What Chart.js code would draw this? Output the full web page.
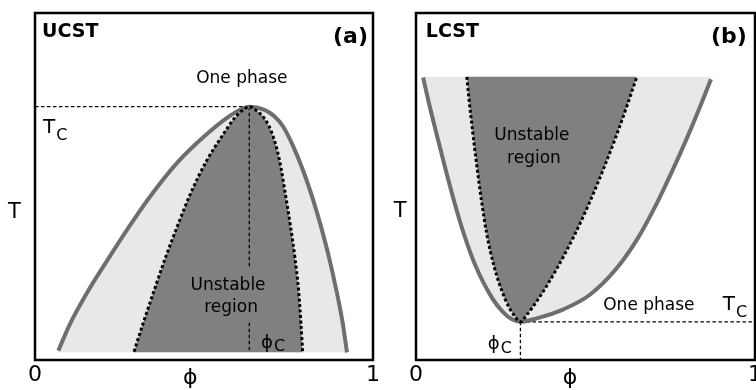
<!DOCTYPE html>
<html>
<head>
<meta charset="utf-8">
<script src="https://cdn.jsdelivr.net/npm/chart.js@4.4.1/dist/chart.umd.min.js"></script>
<style>
  html, body { margin: 0; padding: 0; background: #fff; overflow: hidden; }
  body { width: 756px; height: 390px; position: relative; }
  canvas { position: absolute; top: 0; }
  #ucst { left: 0; }
  #lcst { left: 378px; }
</style>
</head>
<body>
<canvas id="ucst" width="378" height="390"></canvas>
<canvas id="lcst" width="390" height="390"></canvas>
<script>
// phi axis ticks
const phiTickLabels = ['0', '1'];

// (a) UCST - binodal (solid) and spinodal (dotted), phi vs T (0..1)
const ucstBinodalPhi = [0.069, 0.103, 0.157, 0.219, 0.279, 0.345, 0.425, 0.506, 0.567, 0.607, 0.634, 0.679, 0.709, 0.734, 0.762, 0.794, 0.824, 0.846, 0.870, 0.892, 0.911, 0.923];
const ucstBinodalT   = [0.027, 0.103, 0.199, 0.295, 0.385, 0.477, 0.573, 0.649, 0.697, 0.721, 0.730, 0.721, 0.702, 0.673, 0.620, 0.544, 0.458, 0.385, 0.295, 0.199, 0.103, 0.022];
const ucstSpinodalPhi = [0.293, 0.319, 0.352, 0.386, 0.421, 0.459, 0.507, 0.556, 0.590, 0.612, 0.634, 0.656, 0.678, 0.703, 0.724, 0.741, 0.756, 0.769, 0.780, 0.787, 0.792];
const ucstSpinodalT   = [0.024, 0.103, 0.199, 0.295, 0.385, 0.477, 0.573, 0.649, 0.697, 0.718, 0.730, 0.718, 0.697, 0.649, 0.573, 0.477, 0.385, 0.295, 0.199, 0.103, 0.022];
const ucstPhiC = 0.634;
const ucstTc = 0.730;
const ucstBase = 0.022;

// (b) LCST
const lcstBinodalPhi = [0.021, 0.037, 0.061, 0.086, 0.112, 0.140, 0.174, 0.226, 0.256, 0.282, 0.308, 0.356, 0.435, 0.513, 0.590, 0.655, 0.708, 0.757, 0.803, 0.843, 0.870];
const lcstBinodalT   = [0.814, 0.745, 0.650, 0.554, 0.459, 0.367, 0.275, 0.176, 0.139, 0.118, 0.110, 0.120, 0.146, 0.188, 0.262, 0.352, 0.447, 0.547, 0.648, 0.742, 0.809];
const lcstSpinodalPhi = [0.150, 0.156, 0.167, 0.179, 0.193, 0.208, 0.230, 0.263, 0.287, 0.309, 0.322, 0.365, 0.413, 0.465, 0.511, 0.552, 0.590, 0.625, 0.651];
const lcstSpinodalT   = [0.816, 0.755, 0.659, 0.563, 0.460, 0.367, 0.271, 0.175, 0.132, 0.110, 0.124, 0.182, 0.259, 0.355, 0.452, 0.548, 0.644, 0.740, 0.815];
const lcstPhiC = 0.308;
const lcstTc = 0.110;
const lcstTop = 0.816;

const FONT = '"DejaVu Sans", Verdana, sans-serif';

function pts(xs, ys) {
  return xs.map((x, i) => ({x: x, y: ys[i]}));
}

// text, frame and axis letters
const phaseLabels = {
  id: 'phaseLabels',
  afterDraw(chart, args, opts) {
    const ctx = chart.ctx;
    const a = chart.chartArea;
    const sx = chart.scales.x, sy = chart.scales.y;
    ctx.save();
    ctx.strokeStyle = '#000';
    ctx.lineWidth = 2.5;
    ctx.strokeRect(a.left, a.top, a.right - a.left, a.bottom - a.top);
    opts.items.forEach(it => {
      const px = sx.getPixelForValue(it.x);
      const py = sy.getPixelForValue(it.y);
      ctx.font = (it.bold ? 'bold ' : '') + it.size + 'px ' + FONT;
      ctx.textAlign = it.align || 'left';
      ctx.textBaseline = 'alphabetic';
      const w = ctx.measureText(it.text).width;
      if (it.bg) {
        let left = px;
        if (ctx.textAlign === 'center') left = px - w / 2;
        ctx.fillStyle = it.bg;
        ctx.fillRect(left - 2, py - it.size * 1.3, w + 4, it.size * 1.8);
      }
      ctx.fillStyle = '#000';
      ctx.fillText(it.text, px, py);
      if (it.sub) {
        ctx.font = it.subSize + 'px ' + FONT;
        ctx.textAlign = 'left';
        ctx.fillText(it.sub, px + w + 1, py + it.subDy);
      }
    });
    ctx.restore();
  }
};

function makeChart(id, datasets, items, pad) {
  return new Chart(document.getElementById(id), {
    type: 'line',
    data: {datasets: datasets},
    options: {
      responsive: false,
      animation: false,
      events: [],
      layout: {padding: pad},
      scales: {
        x: {
          type: 'linear', min: 0, max: 1,
          grid: {display: false, drawTicks: false},
          border: {display: false},
          ticks: {
            stepSize: 1, padding: 2, color: '#000',
            font: {family: FONT, size: 22},
            callback: (v, i) => phiTickLabels[i]
          },
          afterFit: s => { s.height = 30; s.paddingLeft = 0; s.paddingRight = 0; }
        },
        y: {type: 'linear', min: 0, max: 1, display: false}
      },
      plugins: {
        legend: {display: false},
        tooltip: {enabled: false},
        filler: {drawTime: 'beforeDatasetsDraw'},
        phaseLabels: {items: items}
      }
    },
    plugins: [phaseLabels]
  });
}

function phaseSets(binPhi, binT, spiPhi, spiT, fillTo, tcLine, phicLine) {
  const curve = {pointRadius: 0, cubicInterpolationMode: 'monotone', borderCapStyle: 'butt'};
  const dashed = {pointRadius: 0, tension: 0, fill: false, borderColor: '#000', borderWidth: 1.3, borderDash: [3.5, 2.5]};
  return [
    Object.assign({data: pts(spiPhi, spiT), borderColor: '#000', borderWidth: 3, borderDash: [3, 2.5],
      backgroundColor: '#808080', fill: {value: fillTo}}, curve),
    Object.assign({data: pts(binPhi, binT), borderColor: '#6e6e6e', borderWidth: 4,
      backgroundColor: '#e8e8e8', fill: {value: fillTo}}, curve),
    Object.assign({data: tcLine}, dashed),
    Object.assign({data: phicLine}, dashed)
  ];
}

makeChart('ucst',
  phaseSets(ucstBinodalPhi, ucstBinodalT, ucstSpinodalPhi, ucstSpinodalT, ucstBase,
    [{x: 0, y: ucstTc}, {x: ucstPhiC, y: ucstTc}],
    [{x: ucstPhiC, y: ucstTc}, {x: ucstPhiC, y: ucstBase}]),
  [
    {text: 'UCST', x: 0.021, y: 0.931, size: 19, bold: true},
    {text: '(a)', x: 0.985, y: 0.914, size: 22, bold: true, align: 'right'},
    {text: 'One phase', x: 0.612, y: 0.797, size: 17, align: 'center'},
    {text: 'T', x: 0.024, y: 0.653, size: 20, sub: 'C', subSize: 16, subDy: 7},
    {text: 'Unstable', x: 0.571, y: 0.202, size: 17, align: 'center', bg: '#808080'},
    {text: 'region', x: 0.580, y: 0.138, size: 17, align: 'center', bg: '#808080'},
    {text: 'ϕ', x: 0.669, y: 0.035, size: 18, sub: 'C', subSize: 16, subDy: 3.5},
    {text: 'T', x: -0.061, y: 0.409, size: 21, align: 'center'},
    {text: 'ϕ', x: 0.459, y: -0.069, size: 22, align: 'center'}
  ],
  {left: 35, right: 5, top: 13, bottom: 0});

makeChart('lcst',
  phaseSets(lcstBinodalPhi, lcstBinodalT, lcstSpinodalPhi, lcstSpinodalT, lcstTop,
    [{x: lcstPhiC, y: lcstTc}, {x: 1, y: lcstTc}],
    [{x: lcstPhiC, y: lcstTc}, {x: lcstPhiC, y: 0}]),
  [
    {text: 'LCST', x: 0.029, y: 0.931, size: 19, bold: true},
    {text: '(b)', x: 0.976, y: 0.914, size: 22, bold: true, align: 'right'},
    {text: 'Unstable', x: 0.342, y: 0.634, size: 17, align: 'center'},
    {text: 'region', x: 0.348, y: 0.567, size: 17, align: 'center'},
    {text: 'One phase', x: 0.687, y: 0.144, size: 17, align: 'center'},
    {text: 'T', x: 0.905, y: 0.144, size: 20, sub: 'C', subSize: 16, subDy: 6.7},
    {text: 'ϕ', x: 0.212, y: 0.031, size: 18, sub: 'C', subSize: 16, subDy: 3.5},
    {text: 'T', x: -0.047, y: 0.411, size: 21, align: 'center'},
    {text: 'ϕ', x: 0.454, y: -0.069, size: 22, align: 'center'}
  ],
  {left: 38, right: 13, top: 13, bottom: 0});
</script>
</body>
</html>
